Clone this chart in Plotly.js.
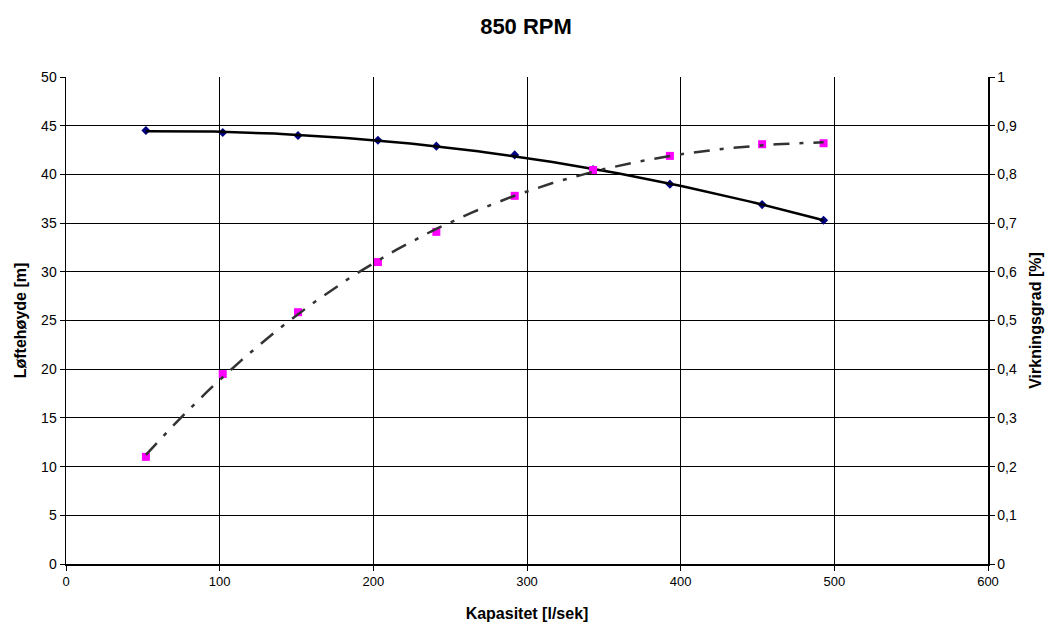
<!DOCTYPE html>
<html>
<head>
<meta charset="utf-8">
<script src="https://cdn.plot.ly/plotly-3.0.1.min.js"></script>
<style>html,body{margin:0;padding:0;background:#fff;}#chart{width:1052px;height:629px;}</style>
</head>
<body>
<div id="chart"></div>
<script>
// Data
const kapasitet = [52, 102, 151, 203, 241, 292, 343, 393, 453, 493];
const loftehoyde = [44.5, 44.3, 44.0, 43.5, 42.9, 42.0, 40.5, 39.0, 36.9, 35.3];
const virkningsgrad = [0.22, 0.39, 0.517, 0.62, 0.682, 0.756, 0.809, 0.838, 0.862, 0.864];

// Least-squares polynomial trendline (as in the spreadsheet chart)
function polyFit(xs, ys, deg) {
  const n = deg + 1;
  const A = Array.from({length: n}, () => new Array(n + 1).fill(0));
  for (let i = 0; i < xs.length; i++) {
    const xi = xs[i] / 100;
    for (let r = 0; r < n; r++) {
      for (let c = 0; c < n; c++) A[r][c] += Math.pow(xi, r + c);
      A[r][n] += ys[i] * Math.pow(xi, r);
    }
  }
  for (let p = 0; p < n; p++) {
    let max = p;
    for (let r = p + 1; r < n; r++) if (Math.abs(A[r][p]) > Math.abs(A[max][p])) max = r;
    [A[p], A[max]] = [A[max], A[p]];
    for (let r = 0; r < n; r++) {
      if (r === p) continue;
      const f = A[r][p] / A[p][p];
      for (let c = p; c <= n; c++) A[r][c] -= f * A[p][c];
    }
  }
  return A.map((row, i) => row[n] / row[i]);
}
function trend(xs, ys, deg) {
  const co = polyFit(xs, ys, deg);
  const x0 = Math.min(...xs), x1 = Math.max(...xs);
  const tx = [], ty = [];
  for (let k = 0; k <= 100; k++) {
    const x = x0 + (x1 - x0) * k / 100;
    tx.push(x);
    ty.push(co.reduce((s, c, i) => s + c * Math.pow(x / 100, i), 0));
  }
  return {tx, ty};
}
const hT = trend(kapasitet, loftehoyde, 2);
const eT = trend(kapasitet, virkningsgrad, 3);

const traces = [
  {x: kapasitet, y: loftehoyde, mode: 'markers', type: 'scatter', name: 'Løftehøyde',
   marker: {symbol: 'diamond', size: 7, color: '#000080'}},
  {x: hT.tx, y: hT.ty, mode: 'lines', type: 'scatter', name: 'Trend H',
   line: {color: '#000000', width: 2.5}},
  {x: kapasitet, y: virkningsgrad, mode: 'markers', type: 'scatter', name: 'Virkningsgrad', yaxis: 'y2',
   marker: {symbol: 'square', size: 8, color: '#FF00FF'}},
  {x: eT.tx, y: eT.ty, mode: 'lines', type: 'scatter', name: 'Trend η', yaxis: 'y2',
   line: {color: '#333333', width: 2.5, dash: '16px,10px,4px,10px'}}
];

const font = {family: 'Liberation Sans, Arial, sans-serif', color: '#000'};
const layout = {
  width: 1052, height: 629,
  margin: {l: 66, r: 64, t: 77, b: 65},
  paper_bgcolor: '#fff', plot_bgcolor: '#fff',
  showlegend: false,
  separators: ', ',
  font: Object.assign({size: 14}, font),
  title: {text: '<b>850 RPM</b>', font: Object.assign({size: 22}, font), x: 0.5, xanchor: 'center', y: 0.958, yanchor: 'middle'},
  xaxis: {
    range: [0, 600], dtick: 100, tick0: 0,
    showgrid: true, gridcolor: '#000', gridwidth: 1,
    showline: true, linecolor: '#000', linewidth: 1.5, mirror: false,
    ticks: 'outside', ticklen: 5, tickcolor: '#000',
    zeroline: false,
    tickfont: Object.assign({size: 13}, font),
    title: {text: '<b>Kapasitet [l/sek]</b>', font: Object.assign({size: 16}, font), standoff: 19}
  },
  yaxis: {
    range: [0, 50], dtick: 5, tick0: 0,
    showgrid: true, gridcolor: '#000', gridwidth: 1,
    showline: true, linecolor: '#000', linewidth: 1.5,
    ticks: 'outside', ticklen: 5, tickcolor: '#000',
    zeroline: false,
    tickfont: Object.assign({size: 14}, font),
    title: {text: '<b>Løftehøyde [m]</b>', font: Object.assign({size: 16}, font), standoff: 10}
  },
  yaxis2: {
    overlaying: 'y', side: 'right',
    range: [0, 1], dtick: 0.1, tick0: 0,
    showgrid: false,
    showline: true, linecolor: '#000', linewidth: 1.5,
    ticks: 'outside', ticklen: 5, tickcolor: '#000',
    zeroline: false,
    tickfont: Object.assign({size: 14}, font),
    title: {text: '<b>Virkningsgrad [%]</b>', font: Object.assign({size: 16}, font), standoff: 14}
  }
};

Plotly.newPlot('chart', traces, layout, {displayModeBar: false, staticPlot: true});
</script>
</body>
</html>
